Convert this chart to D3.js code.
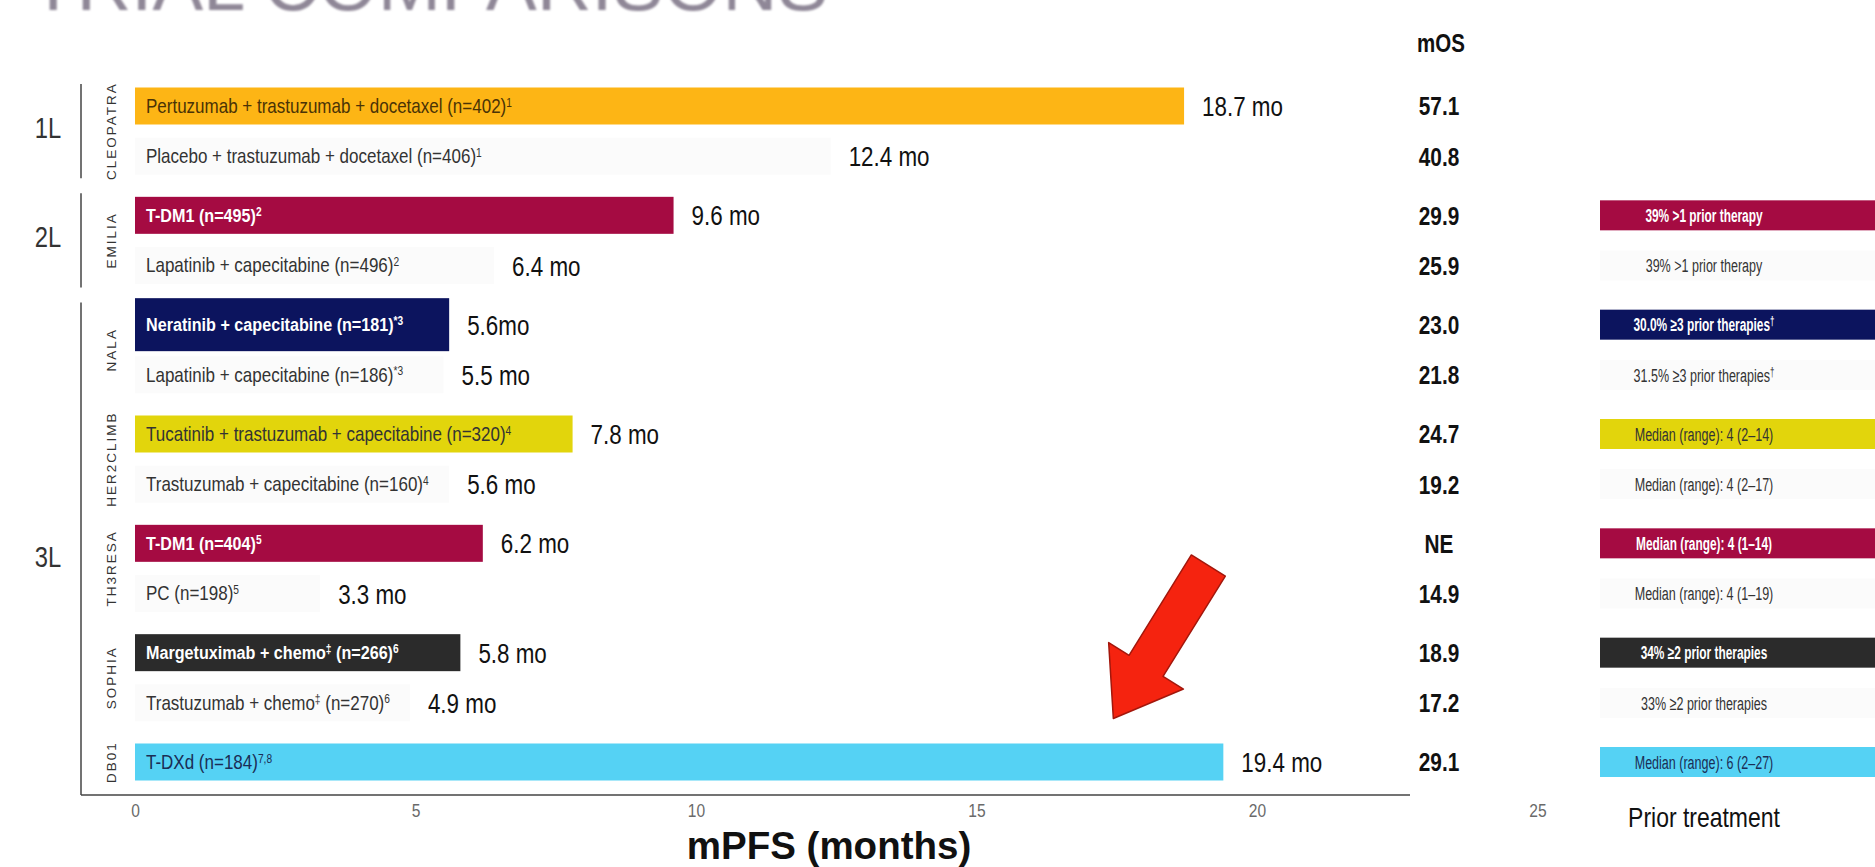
<!DOCTYPE html>
<html>
<head>
<meta charset="utf-8">
<script src="https://cdn.jsdelivr.net/npm/d3@7"></script>
<style>
  html, body { margin: 0; padding: 0; background: #fff; overflow: hidden; }
  svg { display: block; }
</style>
</head>
<body>
<svg id="chart" width="1875" height="867"></svg>
<script>
// ---------- data ----------
const studies = ["CLEOPATRA", "EMILIA", "NALA", "HER2CLIMB", "TH3RESA", "SOPHIA", "DB01"];
const studyLine = ["1L", "2L", "3L", "3L", "3L", "3L", "3L"];

const armStudy = ["CLEOPATRA", "CLEOPATRA", "EMILIA", "EMILIA", "NALA", "NALA",
  "HER2CLIMB", "HER2CLIMB", "TH3RESA", "TH3RESA", "SOPHIA", "SOPHIA", "DB01"];

// "^" toggles superscript
const armLabels = [
  "Pertuzumab + trastuzumab + docetaxel (n=402)^1",
  "Placebo + trastuzumab + docetaxel (n=406)^1",
  "T-DM1 (n=495)^2",
  "Lapatinib + capecitabine (n=496)^2",
  "Neratinib + capecitabine (n=181)^*3",
  "Lapatinib + capecitabine (n=186)^*3",
  "Tucatinib + trastuzumab + capecitabine (n=320)^4",
  "Trastuzumab + capecitabine (n=160)^4",
  "T-DM1 (n=404)^5",
  "PC (n=198)^5",
  "Margetuximab + chemo^‡^ (n=266)^6",
  "Trastuzumab + chemo^‡^ (n=270)^6",
  "T-DXd (n=184)^7,8"
];

const mPFS = [18.7, 12.4, 9.6, 6.4, 5.6, 5.5, 7.8, 5.6, 6.2, 3.3, 5.8, 4.9, 19.4];
const mPFSLabels = ["18.7 mo", "12.4 mo", "9.6 mo", "6.4 mo", "5.6mo", "5.5 mo", "7.8 mo",
  "5.6 mo", "6.2 mo", "3.3 mo", "5.8 mo", "4.9 mo", "19.4 mo"];

const mOS = ["57.1", "40.8", "29.9", "25.9", "23.0", "21.8", "24.7", "19.2", "NE", "14.9", "18.9", "17.2", "29.1"];

const priorTreatment = [
  null, null,
  "39% >1 prior therapy",
  "39% >1 prior therapy",
  "30.0% ≥3 prior therapies^†",
  "31.5% ≥3 prior therapies^†",
  "Median (range): 4 (2–14)",
  "Median (range): 4 (2–17)",
  "Median (range): 4 (1–14)",
  "Median (range): 4 (1–19)",
  "34% ≥2 prior therapies",
  "33% ≥2 prior therapies",
  "Median (range): 6 (2–27)"
];

const xTicks = [0, 5, 10, 15, 20, 25];

// ---------- styling ----------
const SANS = '"Liberation Sans", Arial, sans-serif';
const PLAIN = "#fbfbfb";
const armFill = ["#fdb515", PLAIN, "#a50b42", PLAIN, "#0c145e", PLAIN, "#e2d50c", PLAIN,
  "#a50b42", PLAIN, "#2b2b2b", PLAIN, "#55d2f4"];
const armInk = ["#4a3306", "#333", "#fff", "#333", "#fff", "#333", "#333", "#333",
  "#fff", "#333", "#fff", "#333", "#1b2d55"];
const tallArm = armLabels.map((d, i) => i === 4);
const onDark = i => armInk[i] === "#fff";

// condensed lettering: squeeze text horizontally about its anchor x
function narrow(sel, sx) {
  sel.each(function () {
    const t = d3.select(this);
    const x0 = +t.attr("x") || 0;
    t.attr("transform", `translate(${x0},0) scale(${sx},1) translate(${-x0},0)`);
  });
}

// ---------- layout ----------
const svg = d3.select("#chart");
const rows = d3.range(armLabels.length);

const x = d3.scaleLinear().domain([0, 25]).range([135, 135 + 25 * 56.1]);

// each study gets a little extra room before it
const studyIdx = armStudy.map(s => studies.indexOf(s));
const slot = rows.map(i => i + studyIdx[i] * 0.18);
const y = d3.scaleLinear().domain([0, d3.max(slot)]).range([106, 762]);
const rowY = i => y(slot[i]);
const step = y(1) - y(0);
const barH = i => tallArm[i] ? 53 : 37;
const axisY = 795;

function richText(sel, str, supSize) {
  str.split("^").forEach((p, k) => {
    if (!p) return;
    const t = sel.append("tspan").text(p);
    if (k % 2 === 1) t.attr("font-size", supSize).attr("baseline-shift", "super");
  });
}

// ---------- faded slide title ----------
const defs = svg.append("defs");
defs.append("filter").attr("id", "soft")
  .append("feGaussianBlur").attr("stdDeviation", 1.2);

svg.append("text")
  .attr("x", 30).attr("y", 10)
  .attr("font-family", SANS).attr("font-size", 76)
  .attr("fill", "#8f8797")
  .attr("filter", "url(#soft)")
  .text("TRIAL COMPARISONS");

// ---------- bars ----------
svg.append("g").selectAll("rect").data(rows).join("rect")
  .attr("x", x(0))
  .attr("y", i => rowY(i) - barH(i) / 2)
  .attr("width", i => x(mPFS[i]) - x(0))
  .attr("height", barH)
  .attr("fill", i => armFill[i]);

// arm names inside bars
const ARM_SX = 0.85;
const armText = svg.append("g").selectAll("text").data(rows).join("text")
  .attr("x", x(0) + 11)
  .attr("y", i => rowY(i))
  .attr("dy", "0.35em")
  .attr("font-family", SANS)
  .attr("font-size", i => onDark(i) ? 19 : 20)
  .attr("font-weight", i => onDark(i) ? "bold" : "normal")
  .attr("fill", i => armInk[i])
  .each(function (i) { richText(d3.select(this), armLabels[i], 12); })
  .call(narrow, ARM_SX);

const textEnd = [];
armText.each(function (i) { textEnd[i] = x(0) + 11 + this.getBBox().width * ARM_SX; });

// mPFS value labels
svg.append("g").selectAll("text").data(rows).join("text")
  .attr("x", i => Math.max(x(mPFS[i]), textEnd[i]) + 18)
  .attr("y", i => rowY(i))
  .attr("dy", "0.36em")
  .attr("font-family", SANS)
  .attr("font-size", 28)
  .attr("fill", "#111")
  .text(i => mPFSLabels[i])
  .call(narrow, 0.8);

// ---------- line-of-therapy brackets ----------
const lineGroups = d3.groups(rows, i => studyLine[studyIdx[i]]);
const lineG = svg.append("g");
lineGroups.forEach(([name, idx], k) => {
  const top = rowY(idx[0]) - step / 2 + 3;
  const bottom = k === lineGroups.length - 1 ? axisY : rowY(idx[idx.length - 1]) + step / 2 - 3;
  lineG.append("line")
    .attr("x1", 81).attr("x2", 81).attr("y1", top).attr("y2", bottom)
    .attr("stroke", "#444").attr("stroke-width", 1.5);
  lineG.append("text")
    .attr("x", 48).attr("y", (top + bottom) / 2 + (k === 2 ? 8 : -4))
    .attr("dy", "0.36em").attr("text-anchor", "middle")
    .attr("font-family", SANS).attr("font-size", 29).attr("fill", "#333")
    .text(name)
    .call(narrow, 0.82);
});

// study names, rotated
svg.append("g").selectAll("text").data(studies).join("text")
  .attr("transform", s => {
    const ys = rows.filter(i => armStudy[i] === s).map(rowY);
    return `translate(111,${d3.mean(ys)}) rotate(-90)`;
  })
  .attr("dy", "0.35em")
  .attr("text-anchor", "middle")
  .attr("font-family", SANS).attr("font-size", 13.5)
  .attr("letter-spacing", 2)
  .attr("fill", "#333")
  .text(s => s);

// ---------- x axis ----------
svg.append("line")
  .attr("x1", 81).attr("x2", 1410).attr("y1", axisY).attr("y2", axisY)
  .attr("stroke", "#444").attr("stroke-width", 1.5);

const axisG = svg.append("g")
  .attr("transform", `translate(0,${axisY})`)
  .call(d3.axisBottom(x).tickValues(xTicks).tickSize(0).tickPadding(9));
axisG.select(".domain").remove();
axisG.selectAll("text")
  .attr("font-family", SANS).attr("font-size", 19).attr("fill", "#6a6a6a")
  .attr("transform", "scale(0.82,1)");

svg.append("text")
  .attr("x", 829).attr("y", 858.5)
  .attr("text-anchor", "middle")
  .attr("font-family", SANS).attr("font-size", 38.5).attr("font-weight", "bold")
  .attr("fill", "#111")
  .text("mPFS (months)");

// ---------- mOS column ----------
svg.append("text")
  .attr("x", 1441).attr("y", 52)
  .attr("text-anchor", "middle")
  .attr("font-family", SANS).attr("font-size", 25).attr("font-weight", "bold")
  .attr("fill", "#111")
  .text("mOS")
  .call(narrow, 0.82);

svg.append("g").selectAll("text").data(rows).join("text")
  .attr("x", 1439).attr("y", i => rowY(i))
  .attr("dy", "0.36em").attr("text-anchor", "middle")
  .attr("font-family", SANS).attr("font-size", 26).attr("font-weight", "bold")
  .attr("fill", "#111")
  .text(i => mOS[i])
  .call(narrow, 0.8);

// ---------- prior treatment column ----------
const priorRows = rows.filter(i => priorTreatment[i]);
svg.append("g").selectAll("rect").data(priorRows).join("rect")
  .attr("x", 1600).attr("width", 300)
  .attr("y", i => rowY(i) - 15).attr("height", 30)
  .attr("fill", i => armFill[i]);

svg.append("g").selectAll("text").data(priorRows).join("text")
  .attr("x", 1704).attr("y", i => rowY(i))
  .attr("dy", "0.36em").attr("text-anchor", "middle")
  .attr("font-family", SANS)
  .attr("font-size", i => onDark(i) ? 18 : 19)
  .attr("font-weight", i => onDark(i) ? "bold" : "normal")
  .attr("fill", i => armInk[i])
  .each(function (i) { richText(d3.select(this), priorTreatment[i], 12); })
  .call(narrow, 0.66);

svg.append("text")
  .attr("x", 1704).attr("y", 827)
  .attr("text-anchor", "middle")
  .attr("font-family", SANS).attr("font-size", 28)
  .attr("fill", "#111")
  .text("Prior treatment")
  .call(narrow, 0.82);

// ---------- callout arrow toward the T-DXd bar ----------
const last = rows.length - 1;
const tip = [x(mPFS[last]) - 110, rowY(last) - barH(last) / 2 - 25];
const tail = [tip[0] + 95, tip[1] - 153];
const len = Math.hypot(tail[0] - tip[0], tail[1] - tip[1]);
const u = [(tip[0] - tail[0]) / len, (tip[1] - tail[1]) / len];
const n = [-u[1], u[0]];
const headLen = 62, headHalf = 44, shaftHalf = 20;
const base = [tip[0] - u[0] * headLen, tip[1] - u[1] * headLen];
const P = (p, v, s) => [p[0] + v[0] * s, p[1] + v[1] * s];
const arrowPts = [
  P(tail, n, shaftHalf), P(base, n, shaftHalf), P(base, n, headHalf), tip,
  P(base, n, -headHalf), P(base, n, -shaftHalf), P(tail, n, -shaftHalf)
];
svg.append("path")
  .attr("d", d3.line()(arrowPts) + "Z")
  .attr("fill", "#f5230f")
  .attr("stroke", "#a3170c")
  .attr("stroke-width", 1.5)
  .attr("stroke-linejoin", "round");
</script>
</body>
</html>
